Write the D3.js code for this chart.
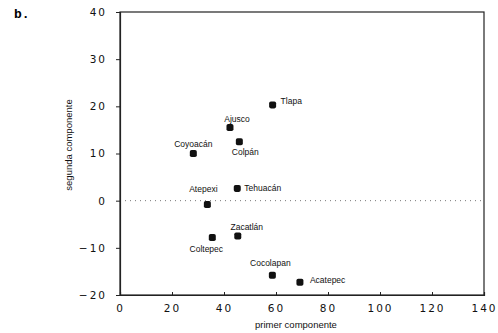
<!DOCTYPE html>
<html>
<head>
<meta charset="utf-8">
<script src="https://cdn.jsdelivr.net/npm/d3@7"></script>
<style>
  body { margin: 0; background: #fff; }
  .tick text { font-family: "DejaVu Sans", sans-serif; font-size: 10.5px; letter-spacing: 2px; fill: #111; }
  .lbl { font-family: "Liberation Sans", sans-serif; font-size: 8.5px; fill: #111; }
</style>
</head>
<body>
<div class="vis"></div>
<script>
// data
var places = ["Tlapa", "Ajusco", "Colpán", "Coyoacán", "Tehuacán", "Atepexi", "Zacatlán", "Coltepec", "Cocolapan", "Acatepec"];
var firstComp = [58.7, 42.3, 45.9, 28.2, 45.1, 33.6, 45.3, 35.5, 58.6, 69.2];
var secondComp = [20.3, 15.5, 12.5, 10.0, 2.6, -0.8, -7.5, -7.8, -15.8, -17.3];
var xTicks = [0, 20, 40, 60, 80, 100, 120, 140];
var yTicks = [-20, -10, 0, 10, 20, 30, 40];

// label offsets relative to each point (dx, dy, anchor)
var labelPos = [
  [8, -4, "start"],
  [7, -9, "middle"],
  [6, 10, "middle"],
  [0, -9, "middle"],
  [7, 0, "start"],
  [-4, -15, "middle"],
  [9, -9, "middle"],
  [-6, 12, "middle"],
  [-2, -12, "middle"],
  [10, -2, "start"]
];

var width = 498, height = 333;
var svg = d3.select(".vis").append("svg")
  .attr("width", width)
  .attr("height", height);

var plot = { left: 120, right: 484, top: 12, bottom: 295 };

var x = d3.scaleLinear().domain([0, 140]).range([plot.left, plot.right]);
var y = d3.scaleLinear().domain([-20, 40]).range([plot.bottom, plot.top]);

// panel letter
svg.append("text")
  .attr("x", 14).attr("y", 18)
  .style("font-family", "'Liberation Mono', monospace")
  .style("font-size", "13px")
  .style("font-weight", "bold")
  .text("b.");

// frame
svg.append("rect")
  .attr("x", plot.left).attr("y", plot.top)
  .attr("width", plot.right - plot.left)
  .attr("height", plot.bottom - plot.top)
  .attr("fill", "none")
  .attr("stroke", "#222")
  .attr("stroke-width", 1.2);

// dotted zero line
svg.append("line")
  .attr("x1", x(0)).attr("x2", x(140))
  .attr("y1", y(0)).attr("y2", y(0))
  .attr("stroke", "#777")
  .attr("stroke-width", 1)
  .attr("stroke-dasharray", "1,4");

// axes
var xAxis = svg.append("g")
  .attr("transform", "translate(0," + plot.bottom + ")")
  .call(d3.axisBottom(x).tickValues(xTicks).tickSize(-3).tickPadding(9));
var yAxis = svg.append("g")
  .attr("transform", "translate(" + plot.left + ",0)")
  .call(d3.axisLeft(y).tickValues(yTicks).tickSize(4).tickPadding(9)
    .tickFormat(function(d) { return d < 0 ? "\u2212" + Math.abs(d) : d; }));

svg.selectAll(".domain").attr("stroke", "#222").attr("stroke-width", 1.2);
svg.selectAll(".tick line").attr("stroke", "#222");
xAxis.selectAll(".tick text").attr("dy", "0.8em");

// axis titles
svg.append("text")
  .attr("class", "lbl")
  .attr("x", 296).attr("y", 328)
  .attr("text-anchor", "middle")
  .style("font-size", "9.5px")
  .text("primer componente");

svg.append("text")
  .attr("class", "lbl")
  .attr("transform", "translate(72,145) rotate(-90)")
  .attr("text-anchor", "middle")
  .style("font-size", "9.5px")
  .text("segunda componente");

// points
var data = places.map(function(p, i) {
  return { name: p, x: firstComp[i], y: secondComp[i], pos: labelPos[i] };
});

svg.selectAll(".pt")
  .data(data)
  .enter().append("rect")
  .attr("class", "pt")
  .attr("x", function(d) { return x(d.x) - 3.5; })
  .attr("y", function(d) { return y(d.y) - 3.5; })
  .attr("width", 7).attr("height", 7)
  .attr("rx", 1.8)
  .attr("fill", "#111");

svg.selectAll(".name")
  .data(data)
  .enter().append("text")
  .attr("class", "lbl")
  .attr("x", function(d) { return x(d.x) + d.pos[0]; })
  .attr("y", function(d) { return y(d.y) + d.pos[1]; })
  .attr("dy", "0.35em")
  .attr("text-anchor", function(d) { return d.pos[2]; })
  .text(function(d) { return d.name; });
</script>
</body>
</html>
